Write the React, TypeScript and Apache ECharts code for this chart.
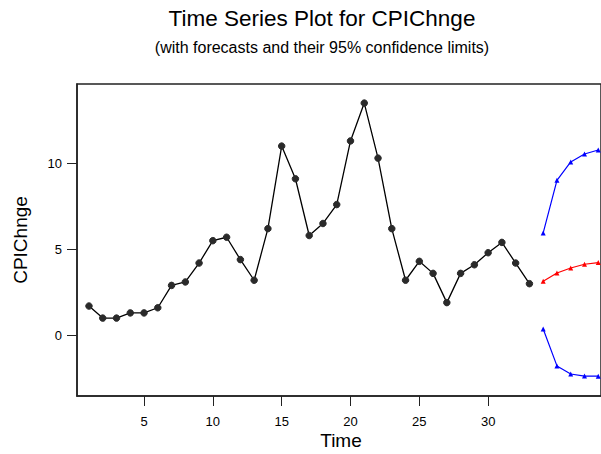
import React, { useEffect, useRef } from "react";
import * as echarts from "echarts";

const titleText = "Time Series Plot for CPIChnge";
const subtitleText = "(with forecasts and their 95% confidence limits)";
const xName = "Time";
const yName = "CPIChnge";

const timeIdx = [1,2,3,4,5,6,7,8,9,10,11,12,13,14,15,16,17,18,19,20,21,22,23,24,25,26,27,28,29,30,31,32,33];
const cpiValues = [1.7,1.0,1.0,1.3,1.3,1.6,2.9,3.1,4.2,5.5,5.7,4.4,3.2,6.2,11.0,9.1,5.8,6.5,7.6,11.3,13.5,10.3,6.2,3.2,4.3,3.6,1.9,3.6,4.1,4.8,5.4,4.2,3.0];

const forecastIdx = [34,35,36,37,38];
const forecastValues = [3.14,3.62,3.91,4.13,4.23];
const upperValues = [5.95,9.01,10.08,10.54,10.77];
const lowerValues = [0.37,-1.78,-2.25,-2.37,-2.38];

const xTicks = [5,10,15,20,25,30];
const yTicks = [0,5,10];

const FONT = "Liberation Sans, Arial, sans-serif";

export default function App() {
  const ref = useRef<HTMLDivElement>(null);
  useEffect(() => {
    if (!ref.current) return;
    const chart = echarts.init(ref.current, null, { renderer: "svg" });
    const pair = (xs: number[], ys: number[]) => xs.map((x, i) => [x, ys[i]]);
    chart.setOption({
      animation: false,
      backgroundColor: "#fff",
      textStyle: { fontFamily: FONT },
      grid: {
        left: 77, top: 84, right: 0, bottom: 58,
        show: true, borderColor: "#222", borderWidth: 1.5, backgroundColor: "transparent",
      },
      xAxis: {
        type: "value", min: 0.13, max: 38.2,
        splitLine: { show: false },
        axisLine: { show: true, onZero: false, lineStyle: { color: "#222", width: 1.5 } },
        axisTick: { show: true, inside: false, length: 10, customValues: xTicks, lineStyle: { color: "#222" } },
        axisLabel: { customValues: xTicks, margin: 19, fontSize: 13, color: "#000", fontFamily: FONT },
      },
      yAxis: {
        type: "value", min: -3.53, max: 14.61,
        splitLine: { show: false },
        axisLine: { show: true, onZero: false, lineStyle: { color: "#222", width: 1.5 } },
        axisTick: { show: true, inside: false, length: 10, customValues: yTicks, lineStyle: { color: "#222" } },
        axisLabel: { customValues: yTicks, margin: 15, fontSize: 13, color: "#000", fontFamily: FONT },
      },
      graphic: [
        { type: "text", x: 322, y: 18, style: { text: titleText, font: `22.5px ${FONT}`, fill: "#000", textAlign: "center", textVerticalAlign: "middle" } },
        { type: "text", x: 322, y: 47, style: { text: subtitleText, font: `16px ${FONT}`, fill: "#000", textAlign: "center", textVerticalAlign: "middle" } },
        { type: "text", x: 341, y: 440, style: { text: xName, font: `19px ${FONT}`, fill: "#000", textAlign: "center", textVerticalAlign: "middle" } },
        { type: "text", x: 20, y: 240, rotation: Math.PI / 2, style: { text: yName, font: `19px ${FONT}`, fill: "#000", textAlign: "center", textVerticalAlign: "middle" } },
      ],
      series: [
        {
          type: "line", data: pair(timeIdx, cpiValues),
          symbol: "circle", symbolSize: 6.5,
          lineStyle: { color: "#000", width: 1.3 },
          itemStyle: { color: "#2a2a2a", borderColor: "#2a2a2a" },
        },
        {
          type: "line", data: pair(forecastIdx, forecastValues),
          symbol: "triangle", symbolSize: 5,
          lineStyle: { color: "#ff0000", width: 1.2 },
          itemStyle: { color: "#ff0000" },
        },
        {
          type: "line", data: pair(forecastIdx, upperValues),
          symbol: "triangle", symbolSize: 5,
          lineStyle: { color: "#0000ff", width: 1.2 },
          itemStyle: { color: "#0000ff" },
        },
        {
          type: "line", data: pair(forecastIdx, lowerValues),
          symbol: "triangle", symbolSize: 5,
          lineStyle: { color: "#0000ff", width: 1.2 },
          itemStyle: { color: "#0000ff" },
        },
      ],
    });
    return () => chart.dispose();
  }, []);
  return <div ref={ref} style={{ position: "fixed", left: 0, top: 0, width: 601, height: 454 }} />;
}
